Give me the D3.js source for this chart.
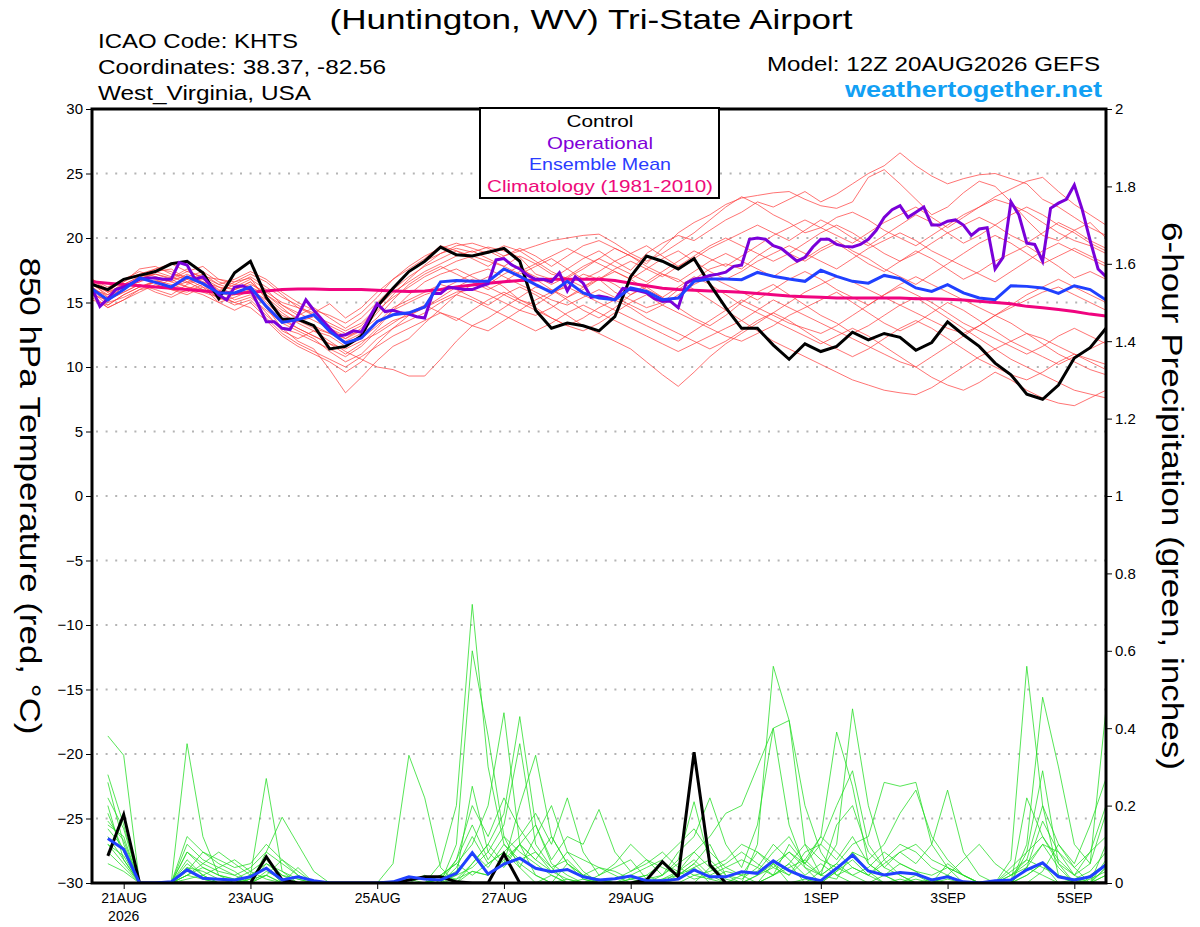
<!DOCTYPE html>
<html>
<head>
<meta charset="utf-8">
<script src="https://cdn.jsdelivr.net/npm/d3@7"></script>
<style>
body { margin: 0; background: #fff; }
text { font-family: "Liberation Sans", Arial, Helvetica, sans-serif; }
</style>
</head>
<body>
<svg id="chart" width="1200" height="927"></svg>
<script>
// run start 12Z 20AUG2026, 6-hourly steps out to 384 h
var runStart = Date.UTC(2026, 7, 20, 12);

var tickDates = ['2026-08-21', '2026-08-23', '2026-08-25', '2026-08-27', '2026-08-29', '2026-09-01', '2026-09-03', '2026-09-05'];
var tickLabels = ['21AUG', '23AUG', '25AUG', '27AUG', '29AUG', '1SEP', '3SEP', '5SEP'];
var tempTicks = [-30, -25, -20, -15, -10, -5, 0, 5, 10, 15, 20, 25, 30];
var precipTicks = [0, 0.2, 0.4, 0.6, 0.8, 1, 1.2, 1.4, 1.6, 1.8, 2];

// 850 hPa temperature (C), 6-hourly
var controlTemp = [16.4, 16.0, 16.8, 17.1, 17.4, 18.0, 18.2, 17.3, 15.3, 17.3,
  18.2, 15.4, 13.7, 13.7, 13.2, 11.4, 11.6, 12.4, 14.7, 16.1,
  17.4, 18.2, 19.3, 18.7, 18.6, 18.9, 19.2, 18.2, 14.4, 13.0,
  13.4, 13.2, 12.8, 13.9, 17.0, 18.6, 18.2, 17.6, 18.4, 16.4,
  14.6, 13.0, 13.0, 11.7, 10.6, 11.8, 11.2, 11.6, 12.7, 12.1,
  12.6, 12.3, 11.3, 11.9, 13.5, 12.5, 11.6, 10.3, 9.4, 7.9,
  7.5, 8.6, 10.7, 11.5, 13.0];

var meanTemp = [16.05, 15.2, 16.0, 16.9, 16.56, 16.2, 16.98, 16.46, 15.74, 15.74,
  16.2, 14.7, 13.46, 13.67, 14.05, 12.76, 11.86, 12.25, 13.53, 14.05,
  14.2, 14.65, 16.6, 16.7, 16.64, 16.64, 17.6, 17.03, 16.38, 15.78,
  16.64, 15.74, 15.35, 15.22, 16.13, 15.86, 15.22, 15.35, 16.64, 16.82,
  16.82, 16.77, 17.33, 17.03, 16.82, 16.64, 17.5, 17.03, 16.64, 16.5,
  17.1, 16.85, 16.13, 15.86, 16.38, 15.74, 15.35, 15.22, 16.3, 16.25,
  16.13, 15.7, 16.3, 16.0, 15.2];

var climoTemp = [16.6, 16.5, 16.4, 16.3, 16.2, 16.1, 16.0, 15.9, 15.8, 15.7,
  15.8, 15.9, 16.0, 16.05, 16.05, 16.0, 16.0, 16.0, 15.95, 15.9,
  15.85, 15.9, 16.0, 16.2, 16.35, 16.5, 16.6, 16.7, 16.75, 16.8,
  16.8, 16.8, 16.8, 16.7, 16.5, 16.3, 16.1, 16.0, 15.95, 15.9,
  15.85, 15.8, 15.7, 15.6, 15.5, 15.45, 15.4, 15.35, 15.35, 15.35,
  15.35, 15.35, 15.3, 15.3, 15.25, 15.2, 15.1, 15.0, 14.9, 14.7,
  14.6, 14.45, 14.3, 14.1, 13.95];

// operational run, 3-hourly
var operTemp = [16.1, 14.7, 15.3, 16.0, 16.2, 16.5, 16.8, 16.9, 16.9, 16.8,
  16.8, 18.1, 17.9, 16.8, 17.0, 16.3, 15.6, 15.2, 16.2, 16.3,
  16.0, 14.8, 13.5, 13.5, 13.0, 12.9, 14.0, 15.2, 14.4, 13.7,
  13.0, 12.4, 12.5, 12.8, 12.7, 13.8, 14.9, 14.3, 14.4, 14.2,
  14.1, 13.9, 13.8, 15.7, 15.7, 16.2, 16.1, 16.0, 16.0, 16.25,
  16.45, 18.3, 18.4, 17.9, 17.6, 17.1, 16.8, 16.8, 16.6, 17.3,
  15.9, 17.0, 16.5, 15.4, 15.5, 15.4, 15.2, 16.1, 16.0, 15.9,
  15.75, 15.3, 15.1, 15.1, 14.6, 16.5, 16.8, 16.9, 17.1, 17.2,
  17.35, 17.8, 17.9, 19.9, 20.0, 19.9, 19.4, 19.2, 18.7, 18.2,
  18.5, 19.3, 19.9, 19.9, 19.5, 19.35, 19.3, 19.5, 19.9, 20.6,
  21.6, 22.2, 22.5, 21.6, 22.0, 22.4, 21.0, 21.0, 21.3, 21.4,
  21.0, 20.2, 20.7, 20.8, 17.6, 18.5, 22.8, 21.8, 19.6, 19.5,
  18.2, 22.3, 22.7, 23.0, 24.1, 22.2, 19.8, 17.6, 17.0];

// ensemble members, 6-hourly
var memberTemp = [
  [16.2,15.0,16.4,17.0,17.2,16.9,17.6,16.8,15.9,16.6,16.9, 15.2,14.0,13.5,13.9,13.0,12.2,12.8,14.2,15.6,16.8, 17.9,18.8,19.2,18.9,19.3,19.0,18.5,17.2,16.8,17.6, 18.4,19.0,18.2,17.5,18.8,19.6,20.2,19.8,20.6,21.4, 22.0,22.8,22.4,23.0,23.6,22.8,23.4,24.2,25.0,25.6, 26.6,25.6,24.8,24.2,24.6,24.9,25.0,24.6,24.2,23.0,22.4,21.6,20.8,20.2],
  [16.6,15.4,16.0,16.8,17.4,17.0,16.5,16.9,16.2,16.0,16.4, 15.8,15.0,14.6,14.2,14.9,13.8,14.6,15.8,16.8,17.6, 18.4,19.4,19.0,18.6,18.2,17.8,18.6,18.0,17.2,16.9, 17.6,18.4,19.2,18.6,18.0,19.2,20.4,21.2,21.8,22.6, 23.1,23.3,23.5,23.6,23.0,22.5,22.3,22.8,24.7,25.3, 24.2,23.0,21.8,22.4,23.5,24.4,24.0,22.8,21.4,20.2,19.8,20.6,21.2,20.0],
  [15.8,14.8,15.6,16.2,16.7,16.4,16.0,15.6,15.0,15.4,15.9, 14.6,13.0,12.0,11.4,9.8,8.0,9.2,10.5,11.6,12.2, 13.4,14.5,15.6,16.4,17.0,16.2,15.2,14.8,15.6,16.4, 17.2,16.8,15.8,15.2,14.6,15.0,16.0,16.8,17.6,18.0, 17.6,18.6,19.4,18.8,18.2,19.0,19.6,18.8,18.0,17.4, 18.2,19.0,18.4,17.6,16.8,17.4,18.2,18.8,19.4,18.6,17.8,16.9,17.4,16.8],
  [16.0,15.2,15.8,16.4,16.0,15.6,16.4,16.8,16.0,15.2,15.6, 14.2,12.8,12.2,12.8,12.0,11.2,10.6,10.0,9.8,9.3, 9.3,10.6,12.0,13.2,13.8,14.6,15.4,16.2,16.0,15.2, 14.4,13.8,14.6,15.6,16.2,15.4,14.6,13.8,13.2,14.0, 15.0,15.8,16.4,15.6,14.8,14.0,13.4,12.6,13.2,14.0, 14.8,15.4,14.6,13.8,13.0,12.2,11.4,10.6,10.0,9.4,8.8,8.2,7.9,7.6],
  [16.4,15.6,16.6,17.2,16.8,16.2,16.8,17.2,16.4,16.0,16.6, 15.4,14.4,13.8,13.2,12.6,12.0,12.6,13.4,14.6,15.2, 15.8,16.4,16.0,15.4,14.8,15.6,16.2,15.6,14.8,14.0, 13.2,12.6,12.0,11.4,10.4,9.4,8.5,9.6,10.8,11.8, 12.6,13.4,14.2,15.0,15.8,16.4,17.0,16.6,16.0,15.4, 14.8,14.2,13.6,13.0,12.6,13.2,14.0,14.6,15.2,15.8,16.2,15.6,15.0,14.4],
  [16.8,16.0,16.6,17.6,17.8,17.2,17.0,17.4,16.6,16.2,16.8, 16.0,14.8,14.0,14.6,13.8,13.0,13.8,15.0,16.2,17.4, 18.2,18.8,19.4,19.6,19.2,18.6,19.0,19.4,19.8,20.0, 20.2,20.3,19.6,18.8,18.2,18.8,19.6,20.4,21.4,22.4, 23.2,22.6,21.8,21.2,20.4,20.8,21.6,22.0,21.4,20.6, 20.0,19.4,20.2,21.0,21.8,22.4,23.0,22.6,22.0,21.2,20.4,19.8,19.4,18.8],
  [15.6,14.6,15.2,16.0,16.6,16.8,16.2,15.8,15.4,14.8,15.2, 14.0,13.0,12.6,12.0,11.4,10.8,11.6,12.8,13.6,14.0, 14.6,15.2,15.8,16.0,15.6,15.0,14.4,14.0,14.6,15.4, 16.0,16.8,17.4,16.8,16.0,15.4,16.2,17.0,16.4,15.6, 14.8,14.2,13.6,13.0,12.4,11.8,12.4,13.0,12.4,11.6, 10.8,10.0,9.2,8.6,8.2,8.8,9.6,9.0,8.2,7.6,7.2,7.0,7.6,8.2],
  [16.2,15.4,16.2,16.6,17.0,16.6,16.2,16.0,15.6,15.8,16.2, 15.0,13.8,13.0,12.4,11.8,11.0,11.8,13.0,14.4,15.6, 16.6,17.2,17.6,17.0,16.4,17.2,17.8,16.8,16.0,15.4, 16.2,17.0,16.4,15.6,16.4,17.2,16.8,16.0,15.2,14.4, 13.6,12.8,12.0,11.4,10.8,10.2,9.6,9.0,8.6,8.2, 8.0,7.85,8.4,9.2,10.0,10.8,11.4,12.0,12.6,12.2,11.6,11.0,10.6,10.2],
  [16.4,15.8,16.8,17.4,17.0,16.6,17.2,16.6,15.8,16.4,17.0, 16.2,15.4,14.8,14.0,13.4,12.8,13.4,14.6,15.8,16.6, 17.4,18.0,18.6,19.0,18.4,17.8,17.2,17.8,18.4,17.6, 16.8,17.4,18.2,18.8,19.4,18.6,17.8,18.4,19.2,19.8, 20.4,21.0,20.4,19.8,20.6,21.4,20.8,20.0,19.4,20.2, 21.0,21.8,21.2,20.4,19.6,20.2,21.0,21.8,22.4,21.8,21.0,20.4,19.6,19.0],
  [15.9,15.0,15.4,16.0,16.2,16.8,17.0,16.4,15.2,15.6,16.0, 15.2,14.2,13.4,12.8,12.4,11.6,12.2,13.2,14.4,15.0, 15.6,16.0,16.6,17.2,17.6,17.0,16.4,15.8,15.2,14.8, 15.4,16.0,15.4,14.8,14.2,14.8,15.6,16.4,17.0,16.4, 15.8,15.2,16.0,16.8,17.4,16.8,16.0,15.4,14.8,15.6, 16.4,17.0,16.4,15.8,15.2,14.6,14.0,14.8,15.6,16.2,16.8,16.2,15.6,15.0],
  [16.6,15.8,16.2,16.6,17.4,17.6,16.8,16.2,15.6,16.0,16.6, 15.6,14.6,13.6,13.0,12.6,12.2,13.0,14.4,15.4,16.2, 17.0,17.6,18.2,18.6,19.0,18.4,17.6,17.0,16.4,17.0, 17.8,18.4,17.8,17.2,16.6,17.4,18.2,19.0,18.4,17.8, 18.6,19.4,20.2,20.8,21.4,20.8,20.2,19.6,20.4,21.2, 21.8,22.4,21.6,20.8,21.6,22.4,23.2,23.8,24.4,24.7,23.6,22.6,21.8,21.0],
  [15.4,14.6,15.2,15.8,16.4,16.0,15.6,16.2,15.0,14.4,15.0, 13.8,12.6,11.8,11.2,10.6,10.0,10.8,11.6,12.4,13.0, 13.6,14.2,13.8,13.2,12.8,13.6,14.4,15.2,15.8,16.2, 15.6,15.0,14.4,13.8,13.2,12.6,12.0,12.8,13.6,14.4, 15.2,14.6,14.0,13.4,13.0,12.6,13.2,14.0,14.8,15.6, 16.2,15.6,15.0,14.2,13.4,12.8,12.2,11.6,11.0,11.6,12.4,13.0,12.4,11.8],
  [16.8,16.2,16.8,17.2,17.6,17.4,16.6,17.0,16.8,16.6,17.2, 16.6,15.6,14.6,14.0,13.2,12.6,13.2,14.6,16.0,17.0, 17.8,18.4,19.0,18.4,17.8,18.6,19.2,18.6,17.8,18.6, 19.4,19.8,19.2,18.6,17.8,17.2,16.6,17.4,18.2,18.8, 18.2,17.6,17.0,17.8,18.4,19.2,19.8,19.0,18.4,17.6, 17.0,16.4,17.2,18.0,18.8,19.6,20.2,19.6,18.8,18.0,18.6,19.2,18.6,18.0],
  [15.6,15.2,15.8,16.4,15.8,15.4,16.0,16.6,16.2,15.6,15.8, 14.8,13.6,13.0,12.4,11.8,11.4,12.0,12.6,13.4,14.2, 14.8,14.2,13.6,14.4,15.2,15.8,15.2,14.6,13.8,13.2, 12.8,13.4,14.2,15.0,15.6,14.8,14.2,13.6,13.0,12.4, 12.0,12.6,13.2,14.0,14.6,15.2,15.8,15.0,14.2,13.4, 12.8,13.4,14.2,15.0,14.4,13.6,12.8,12.0,11.4,10.8,10.2,10.8,11.4,12.0],
  [16.2,15.2,16.0,16.8,17.2,16.8,17.4,17.8,16.8,16.4,16.2, 15.6,14.8,14.2,13.6,13.0,12.4,12.8,13.8,15.2,16.4, 17.2,17.8,17.2,16.6,16.0,16.6,17.4,18.0,18.6,19.2, 18.6,18.0,17.4,16.8,17.6,18.4,19.0,18.2,17.4,16.8, 17.4,18.2,18.8,19.4,18.8,18.2,17.6,18.4,19.2,19.8, 20.4,19.8,19.0,18.4,17.8,17.2,16.6,17.4,18.2,19.0,19.6,19.0,18.4,17.8],
  [16.0,15.6,16.4,16.2,16.6,16.2,16.6,16.0,15.4,15.0,15.4, 14.4,13.4,12.8,12.2,11.2,10.4,11.0,12.2,13.0,13.6, 14.2,15.0,15.6,15.2,14.6,14.0,13.4,12.8,13.4,14.2, 14.8,14.2,13.6,13.0,12.4,11.8,11.2,11.8,12.4,13.0, 13.6,14.4,15.2,14.6,14.0,13.4,12.8,12.2,11.6,11.0, 10.4,10.0,10.8,11.6,12.4,13.2,14.0,13.4,12.6,11.8,11.0,10.4,9.8,9.4],
  [16.8,15.8,16.4,17.0,17.6,18.0,17.4,17.0,16.4,16.8,17.4, 16.8,15.8,15.0,14.4,14.0,13.4,14.2,15.4,16.8,17.8, 18.6,19.2,19.6,19.2,18.8,19.4,19.0,18.2,17.4,16.8, 16.2,16.8,17.6,18.2,17.6,17.0,17.8,18.6,19.4,20.0, 19.4,18.8,18.2,18.8,19.6,20.4,21.0,20.4,19.6,18.8, 18.2,18.8,19.6,20.4,21.0,21.6,21.0,20.2,19.6,20.4,21.2,20.6,19.8,19.2],
  [15.2,14.8,15.6,16.2,16.6,16.0,15.8,16.4,15.6,15.0,14.6, 13.6,12.4,11.6,11.0,10.4,9.6,10.4,11.8,13.0,14.0, 14.6,15.4,16.2,16.8,16.2,15.6,15.0,14.4,13.8,13.2, 13.8,14.6,15.2,14.6,13.8,13.2,12.6,12.0,11.4,12.0, 12.8,13.6,14.2,13.6,12.8,12.0,11.4,10.8,11.4,12.2, 13.0,13.6,13.0,12.2,11.4,10.6,10.0,9.4,9.0,9.6,10.4,11.0,10.4,9.8]
];

// 6-hour precipitation (inches), periods ending 18Z 20AUG .. 12Z 5SEP
var controlPrecip = [0.07,0.177,0,0,0,0,0,0, 0,0,0.068,0.008,0,0,0,0, 0,0,0,0.008,0.016,0.016,0.003,0, 0,0.075,0,0,0,0,0,0, 0,0,0.008,0.055,0.016,0.338,0.047,0, 0,0,0,0,0,0,0,0, 0,0,0,0,0,0,0,0, 0,0,0,0,0,0,0,0];

var meanPrecip = [0.115,0.087,0,0,0.003,0.034,0.012,0.01, 0.008,0.016,0.038,0.008,0.016,0.006,0,0, 0,0,0.003,0.016,0.01,0.008,0.025,0.078, 0.023,0.049,0.064,0.038,0.029,0.035,0.016,0.008, 0.011,0.018,0.006,0.006,0.01,0.034,0.016,0.016, 0.029,0.025,0.057,0.032,0.015,0.006,0.038,0.072, 0.031,0.021,0.027,0.023,0.008,0.016,0.003,0, 0.006,0.008,0.034,0.052,0.016,0.008,0.016,0.047];

var memberPrecip = [
  [.38,.33,0,0,0,.02,.01,0, 0,0,.02,0,0,0,0,0, 0,0,0,.01,0,.05,.2,.72, .3,.1,.05,.02,0,.01,0,0, 0,0,.01,0,.02,.05,.01,0, 0,.1,.56,.42,.1,.02,.05,.02, 0,0,.01,0,0,.02,0,0, 0,0,.02,.05,0,0,.01,.03],
  [.28,.15,0,0,0,.36,.12,.02, 0,.01,.04,0,0,0,0,0, 0,0,0,0,0,0,.1,.6, .38,.12,.04,0,.02,0,0,.01, 0,0,0,0,.01,.04,0,0, 0,0,.02,.05,0,.03,.1,.45, .2,.06,.02,0,0,.01,0,0, 0,0,.08,.29,.05,0,0,.02],
  [.26,.1,0,0,0,.05,.02,0, 0,.02,.27,.03,0,0,0,0, 0,0,0,0,0,.02,.05,.1, .2,.44,.1,.02,0,.05,.02,0, 0,.01,0,0,0,0,.04,0, .02,.08,.05,0,.01,0,.03,.06, .02,0,0,.01,0,0,0,0, 0,.06,.56,.2,.02,0,0,.04],
  [.18,.08,0,0,0,.08,.04,.02, .01,.03,.06,.02,.01,0,0,0, 0,0,.05,.33,.22,.04,0,.05, .1,.18,.43,.15,.05,.02,0,0, 0,0,0,.01,.02,.05,.1,.02, 0,.02,.04,.08,.05,.12,.39,.25, .05,.02,0,0,0,0,0,0, 0,.02,.05,.1,.04,0,0,.06],
  [.15,.12,0,0,0,.1,.06,.04, .02,0,.08,.17,.1,.03,0,0, 0,0,0,0,0,0,.02,.25, .08,.15,.36,.1,.04,0,.01,0, 0,0,0,.02,.06,.21,.05,.01, 0,0,.02,.04,.06,.02,.01,.08, .03,0,0,.02,0,.05,.02,0, 0,0,.1,.48,.3,.1,.05,.45],
  [.12,.06,0,0,0,.04,.03,.01, 0,0,.05,.02,0,0,0,0, 0,0,0,0,0,0,.01,.05, .1,.05,.2,.33,.12,.05,.02,.01, 0,0,.01,.02,.08,.12,.22,.1, .04,.15,.4,.42,.2,.08,.02,0, 0,.02,.05,.03,0,0,0,0, 0,0,0,.03,.1,.05,.15,.27],
  [.1,.05,0,0,0,.03,.08,.05, .03,0,.02,.06,.03,0,0,0, 0,0,0,0,0,.02,.05,.02, .05,.08,.12,.18,.1,.22,.08,.02, .04,.06,.01,0,0,.02,.03,.05, .08,.05,.02,.1,.05,.02,.05,.1, .12,.26,.25,.26,.1,.04,0,0, 0,.02,.04,.02,0,.01,.03,.08],
  [.08,.04,0,0,0,.02,.05,.08, .05,.02,.04,.01,0,0,0,0, 0,0,0,0,0,0,0,.03, .02,.05,.1,.15,.06,.12,.1,.19, .08,.03,.05,.08,.04,.02,.01,.03, .02,.03,.08,.12,.05,.1,.2,.29, .1,.04,.08,.05,.1,.24,.08,.02, 0,0,.02,.05,.02,0,.02,.05],
  [.2,.06,0,0,0,.12,.08,.06, .04,.05,.1,.06,.02,0,0,0, 0,0,0,0,.02,0,.04,.12, .05,.08,.04,.12,.2,.08,.03,0, 0,.02,.04,.06,.1,.14,.08,.04, .02,0,.05,.08,.04,0,.03,.08, .06,.1,.18,.24,.12,.06,.02,0, 0,.04,.08,.12,.06,.02,0,.1],
  [.22,.14,0,0,0,.02,.04,.02, .01,0,.03,.01,0,0,0,0, 0,0,0,0,0,.01,.03,.08, .04,.1,.06,.08,.04,.06,.02,.04, .02,0,0,.01,.03,.08,.04,.06, .1,.08,.04,.02,.06,.12,.08,.04, .02,.05,.08,.1,.06,.04,.02,0, 0,0,.04,.1,.08,.04,.08,.12],
  [.14,.09,0,0,0,.06,.02,0, 0,.01,.02,0,.04,0,0,0, 0,0,0,0,0,0,.06,.15, .06,.12,.08,.05,.02,0,0,.02, .05,.1,.06,.02,.05,.08,.12,.18, .2,.3,.4,.15,.04,.02,.15,.2, .08,.04,.02,0,0,.02,0,0, 0,0,.22,.12,.05,.02,.08,.2],
  [.1,.07,0,0,0,.04,.01,0, 0,.02,.05,.03,.01,0,0,0, 0,0,0,0,0,.01,.02,.04, .08,.04,.1,.06,.12,.05,.01,0, .01,.03,.06,.04,.02,.04,.06,.02, .01,.04,.1,.06,.02,.05,.02,.04, .02,.06,.1,.08,.04,.02,.06,.1, .05,.02,.06,.2,.1,.04,0,.02],
  [.05,.03,0,0,0,.01,.02,.04, .06,.03,.01,0,0,0,0,0, 0,0,0,0,0,.02,.01,.03, .02,.06,.1,.06,.03,.08,.06,.04, .03,.01,.02,.05,.03,.01,.02,.04, .06,.04,.02,.05,.1,.06,.04,.02, .04,.08,.05,.03,.02,.04,.02,0, 0,.03,.06,.04,.02,.01,0,.04],
  [.16,.11,0,0,0,.08,.05,.03, .02,.04,.08,.05,.02,0,0,0, 0,0,0,0,0,.01,.06,.2, .12,.22,.14,.08,.03,.01,0,0, 0,.01,.02,0,.03,.06,.02,0, 0,.02,.05,.02,.08,.1,.06,.12, .05,.02,0,0,.01,0,0,0, 0,0,.04,.16,.08,.02,.05,.18]
];

var svg = d3.select('svg#chart');
var plotL = 92, plotR = 1106, plotT = 109, plotB = 883;

function stepTime(i, hours) {
  return new Date(runStart + i * hours * 3600 * 1000);
}

var x = d3.scaleUtc()
  .domain([stepTime(0, 6), stepTime(64, 6)])
  .range([plotL, plotR]);
var yT = d3.scaleLinear().domain([-30, 30]).range([plotB, plotT]);
var yP = d3.scaleLinear().domain([0, 2]).range([plotB, plotT]);

svg.append('rect').attr('width', 1200).attr('height', 927).attr('fill', '#fff');

svg.append('clipPath').attr('id', 'plotClip')
  .append('rect')
  .attr('x', plotL).attr('y', plotT - 1)
  .attr('width', plotR - plotL).attr('height', plotB - plotT + 1);

// dotted grid at every 5 C
svg.append('g')
  .selectAll('line')
  .data(tempTicks.filter(function(d) { return d > -30 && d < 30; }))
  .join('line')
  .attr('x1', plotL + 4).attr('x2', plotR)
  .attr('y1', function(d) { return yT(d); })
  .attr('y2', function(d) { return yT(d); })
  .attr('stroke', '#b4b4b4')
  .attr('stroke-width', 2)
  .attr('stroke-dasharray', '2,7.6');

var tempLine = d3.line()
  .x(function(d, i) { return x(stepTime(i, 6)); })
  .y(function(d) { return yT(d); });
var operLine = d3.line()
  .x(function(d, i) { return x(stepTime(i, 3)); })
  .y(function(d) { return yT(d); });
// first precip value is the 6 h period ending at step 1
var precipLine = d3.line()
  .x(function(d, i) { return x(stepTime(i + 1, 6)); })
  .y(function(d) { return yP(d); });

var plot = svg.append('g').attr('clip-path', 'url(#plotClip)').attr('fill', 'none');

plot.append('g')
  .selectAll('path')
  .data(memberTemp)
  .join('path')
  .attr('d', tempLine)
  .attr('stroke', '#ff3c3c')
  .attr('stroke-opacity', 0.8)
  .attr('stroke-width', 0.9);

plot.append('g')
  .selectAll('path')
  .data(memberPrecip)
  .join('path')
  .attr('d', precipLine)
  .attr('stroke', '#22dd22')
  .attr('stroke-opacity', 0.85)
  .attr('stroke-width', 0.9);

plot.append('path').attr('d', tempLine(climoTemp))
  .attr('stroke', '#f0047f').attr('stroke-width', 3);
plot.append('path').attr('d', tempLine(controlTemp))
  .attr('stroke', '#000').attr('stroke-width', 3);
plot.append('path').attr('d', operLine(operTemp))
  .attr('stroke', '#7a00d9').attr('stroke-width', 3);
plot.append('path').attr('d', tempLine(meanTemp))
  .attr('stroke', '#2040ff').attr('stroke-width', 3);

plot.append('path').attr('d', precipLine(controlPrecip))
  .attr('stroke', '#000').attr('stroke-width', 3);
plot.append('path').attr('d', precipLine(meanPrecip))
  .attr('stroke', '#2040ff').attr('stroke-width', 3);

// axes
var yAxisL = svg.append('g')
  .attr('transform', 'translate(' + plotL + ',0)')
  .call(d3.axisLeft(yT).tickValues(tempTicks).tickSize(6).tickPadding(3));
var yAxisR = svg.append('g')
  .attr('transform', 'translate(' + plotR + ',0)')
  .call(d3.axisRight(yP).tickValues(precipTicks).tickFormat(d3.format('~g')).tickSize(6).tickPadding(3));
var xAxis = svg.append('g')
  .attr('transform', 'translate(0,' + plotB + ')')
  .call(d3.axisBottom(x)
    .tickValues(tickDates.map(function(d) { return new Date(d + 'T00:00:00Z'); }))
    .tickFormat(function(d, i) { return tickLabels[i]; })
    .tickSize(6).tickPadding(4));

[yAxisL, yAxisR, xAxis].forEach(function(g) {
  g.select('.domain').remove();
  g.selectAll('line').attr('stroke', '#000');
  g.selectAll('text').attr('fill', '#000').attr('font-family', '"Liberation Sans", Arial, sans-serif');
});
yAxisL.selectAll('text').attr('font-size', 15);
yAxisR.selectAll('text').attr('font-size', 15);
xAxis.selectAll('text').attr('font-size', 14);

svg.append('text')
  .attr('x', x(new Date(tickDates[0] + 'T00:00:00Z')))
  .attr('y', 921)
  .attr('text-anchor', 'middle')
  .attr('font-size', 14)
  .text('2026');

// frame
svg.append('rect')
  .attr('x', plotL).attr('y', plotT)
  .attr('width', plotR - plotL).attr('height', plotB - plotT)
  .attr('fill', 'none').attr('stroke', '#000').attr('stroke-width', 3);

// legend
var legendItems = [
  {label: 'Control', color: '#000', width: 67},
  {label: 'Operational', color: '#8000d8', width: 106},
  {label: 'Ensemble Mean', color: '#2a3cff', width: 142},
  {label: 'Climatology (1981-2010)', color: '#ee0a7a', width: 226}
];
svg.append('rect')
  .attr('x', 480).attr('y', 108).attr('width', 239).attr('height', 90)
  .attr('fill', '#fff').attr('stroke', '#000').attr('stroke-width', 2);
svg.append('g')
  .selectAll('text')
  .data(legendItems)
  .join('text')
  .attr('x', 600)
  .attr('y', function(d, i) { return 127 + i * 21.6; })
  .attr('text-anchor', 'middle')
  .attr('font-size', 17)
  .attr('fill', function(d) { return d.color; })
  .attr('textLength', function(d) { return d.width; })
  .attr('lengthAdjust', 'spacingAndGlyphs')
  .text(function(d) { return d.label; });

// titles
function label(txt, xPos, yPos, size, len, anchor, extra) {
  var t = svg.append('text')
    .attr('x', xPos).attr('y', yPos)
    .attr('font-size', size)
    .attr('text-anchor', anchor)
    .attr('textLength', len)
    .attr('lengthAdjust', 'spacingAndGlyphs')
    .text(txt);
  if (extra) extra(t);
  return t;
}
label('(Huntington, WV) Tri-State Airport', 591, 29, 28, 523, 'middle');
label('ICAO Code: KHTS', 98, 48, 20, 200, 'start');
label('Coordinates: 38.37, -82.56', 98, 74, 20, 288, 'start');
label('West_Virginia, USA', 98, 100, 20, 213, 'start');
label('Model: 12Z 20AUG2026 GEFS', 1100, 71, 20, 333, 'end');
label('weathertogether.net', 1102, 97, 22, 257, 'end', function(t) {
  t.attr('font-weight', 'bold').attr('fill', '#12a0f4');
});

svg.append('text')
  .attr('transform', 'translate(20,496) rotate(90)')
  .attr('text-anchor', 'middle')
  .attr('font-size', 30)
  .attr('textLength', 477)
  .attr('lengthAdjust', 'spacingAndGlyphs')
  .text('850 hPa Temperature (red, \u00B0C)');

svg.append('text')
  .attr('transform', 'translate(1162,496) rotate(90)')
  .attr('text-anchor', 'middle')
  .attr('font-size', 30)
  .attr('textLength', 548)
  .attr('lengthAdjust', 'spacingAndGlyphs')
  .text('6-hour Precipitation (green, inches)');
</script>
</body>
</html>
